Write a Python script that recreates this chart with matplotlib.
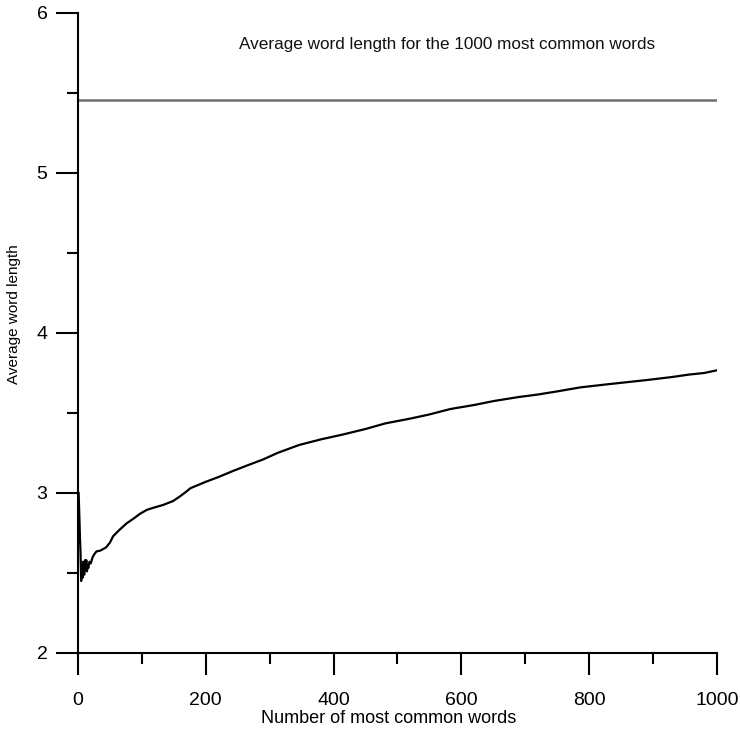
import matplotlib
matplotlib.use("Agg")
import matplotlib.pyplot as plt
from matplotlib.ticker import MultipleLocator

plt.rcParams['font.family'] = ['Liberation Sans', 'DejaVu Sans']

# data
n_words = [1, 2, 3, 4, 5, 6, 7, 8, 9, 10, 11, 12, 13, 14, 15, 16, 18, 20, 23, 26,
           29, 35, 44, 50, 55, 65, 76, 87, 97, 108, 120, 133, 149, 160, 170, 176,
           188, 200, 220, 244, 270, 290, 312, 346, 380, 414, 450, 481, 520, 549,
           583, 620, 651, 690, 719, 750, 786, 830, 888, 930, 956, 980, 1000]
avg_len = [3.0, 2.87, 2.73, 2.62, 2.45, 2.55, 2.47, 2.57, 2.50, 2.49, 2.58, 2.52,
           2.58, 2.51, 2.55, 2.53, 2.57, 2.56, 2.60, 2.62, 2.635, 2.64, 2.66, 2.69,
           2.73, 2.77, 2.81, 2.84, 2.87, 2.895, 2.91, 2.925, 2.95, 2.98, 3.01, 3.03,
           3.05, 3.07, 3.10, 3.14, 3.18, 3.21, 3.25, 3.30, 3.335, 3.365, 3.40, 3.435,
           3.465, 3.49, 3.525, 3.55, 3.575, 3.60, 3.615, 3.635, 3.66, 3.68, 3.705,
           3.725, 3.74, 3.75, 3.767]
ref_value = 5.455
ref_label = "Average word length for the 1000 most common words"
x_ticks = [0, 200, 400, 600, 800, 1000]
y_ticks = [2, 3, 4, 5, 6]

fig = plt.figure(figsize=(7.4, 7.3), dpi=100)
ax = fig.add_axes([0.1054, 0.1055, 0.8635, 0.8767])

ax.plot(n_words, avg_len, color='black', lw=1.6)
ax.plot([0, 1000], [ref_value, ref_value], color='#6e6e6e', lw=1.8)
ax.text(577, 5.8, ref_label, ha='center', va='center', fontsize=12.3, color='#111111')

ax.set_xlim(0, 1000)
ax.set_ylim(2, 6)
ax.set_xticks(x_ticks)
ax.set_yticks(y_ticks)
ax.xaxis.set_minor_locator(MultipleLocator(100))
ax.yaxis.set_minor_locator(MultipleLocator(0.5))

for s in ['top', 'right']:
    ax.spines[s].set_visible(False)
for s in ['left', 'bottom']:
    ax.spines[s].set_linewidth(1.5)
    ax.spines[s].set_color('black')

ax.tick_params(axis='both', which='major', length=16, width=1.5, direction='out',
               labelsize=14, colors='black')
ax.tick_params(axis='both', which='minor', length=8, width=1.5, direction='out')
ax.tick_params(axis='x', which='major', pad=12)
ax.tick_params(axis='y', which='major', pad=6)

ax.set_xlabel("Number of most common words", fontsize=13)
ax.xaxis.label.set_va('center')
ax.xaxis.set_label_coords(0.486, -0.1016)
ax.set_ylabel("Average word length", fontsize=11)
ax.yaxis.label.set_va('center')
ax.yaxis.set_label_coords(-0.100, 0.53)

fig.savefig("out.png", dpi=100)
